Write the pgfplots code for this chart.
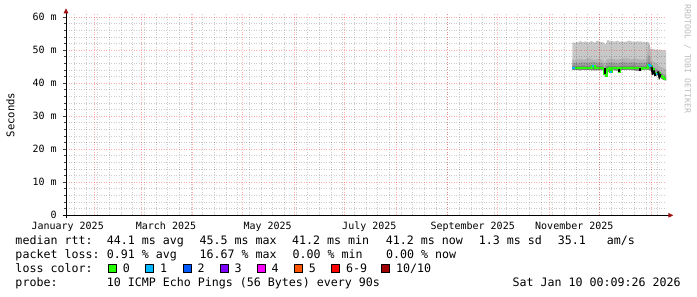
\documentclass[border=0pt]{standalone}
\usepackage{pgfplots}
\pgfplotsset{compat=1.18}
\usepgfplotslibrary{fillbetween}
\usetikzlibrary{arrows.meta}
\usepackage{fontspec}
\newfontfamily\mono{DejaVu Sans Mono}
\newcommand\legfont{\mono\fontsize{11.63bp}{14bp}\selectfont}
\newcommand\axfont{\mono\fontsize{10bp}{12bp}\selectfont}
\newcommand\labfont{\mono\fontsize{10.6bp}{12bp}\selectfont}
\newcommand\wmfont{\mono\fontsize{8.2bp}{10bp}\selectfont}
\definecolor{lc0}{HTML}{26FF00}
\definecolor{lc1}{HTML}{00B8FF}
\definecolor{lc2}{HTML}{0059FF}
\definecolor{lc3}{HTML}{7E00FF}
\definecolor{lc4}{HTML}{FF00FF}
\definecolor{lc5}{HTML}{FF5500}
\definecolor{lc6}{HTML}{FF0000}
\definecolor{lc10}{HTML}{A10000}
\definecolor{smokeA}{HTML}{C8C8C8}
\definecolor{smokeB}{HTML}{B4B4B4}
\definecolor{smokeC}{HTML}{9C9C9C}
\definecolor{smokeD}{HTML}{808080}
\definecolor{arrowred}{HTML}{A01010}
\definecolor{wmgray}{HTML}{BBBBBB}
\begin{document}
\begin{tikzpicture}
\begin{axis}[
  at={(66bp,81.7bp)}, anchor=south west,
  scale only axis, width=600bp, height=202bp,
  xmin=14, xmax=374, ymin=0, ymax=61.2,
  axis lines=left,
  axis on top,
  x axis line style={line width=1bp, black, -{Triangle[length=5bp,width=4.5bp,color=arrowred,fill=arrowred]}, shorten >=-7.3bp, shorten <=-3.3bp},
  y axis line style={line width=1bp, black, -{Triangle[length=5bp,width=4.5bp,color=arrowred,fill=arrowred]}, shorten >=-5bp, shorten <=-3bp},
  xtick={31,59,90,120,151,181,212,243,273,304,334,365},
  xticklabels={},
  minor xtick={19,26,...,374},
  extra x ticks={15,74,135,196,258,319},
  extra x tick labels={January 2025,March 2025,May 2025,July 2025,September 2025,November 2025},
  extra x tick style={grid=none},
  xtick style={draw=none},
  ytick={0,10,...,60},
  yticklabels={{0\hspace{9.7bp}},{10 m},{20 m},{30 m},{40 m},{50 m},{60 m}},
  minor y tick num=4,
  ytick style={black!75, line width=1bp},
  tick align=outside,
  major tick length=3bp, minor tick length=2bp,
  grid=both,
  major grid style={red, opacity=0.32, dash pattern=on 1bp off 1.5bp, line width=0.8bp},
  minor grid style={black, opacity=0.2, dash pattern=on 1bp off 1.5bp, line width=0.8bp},
  xticklabel style={font=\axfont, anchor=base, inner sep=0pt, yshift=-11.2bp},
  yticklabel style={font=\axfont, anchor=east, inner sep=0pt, xshift=-6.2bp},
  ylabel={Seconds},
  ylabel style={font=\labfont, at={(axis description cs:-0.0925,0.4965)}, anchor=center},
]
% smoke: maximum
\addplot[name path=maxc, draw=none] coordinates {
(317.8,52.3) (318.6,52.4) (319.6,52.2) (320.6,52.5) (321.6,52.4) (322.6,52.9)
(323.4,52.6) (324.4,52.4) (325.4,52.7) (326.4,52.6) (327.4,52.2) (328.4,52.6)
(329.4,52.8) (330.4,52.5) (331.4,52.3) (332.4,52.8) (333.4,52.9) (334.4,52.6)
(335.4,52.4) (336.4,52.5) (337.2,51.8) (338.0,52.0) (338.8,53.1) (339.8,53.0)
(340.8,52.7) (341.8,52.8) (342.8,52.6) (343.8,52.7) (344.8,52.9) (345.8,52.6)
(346.8,52.6) (347.8,52.8) (348.8,52.5) (349.8,52.6) (350.8,52.7) (351.8,52.9)
(352.8,52.8) (353.8,52.6) (354.8,52.7) (355.8,52.5) (356.8,52.8) (357.8,52.6)
(358.8,52.7) (359.8,52.5) (360.8,52.6) (361.8,52.4) (362.8,52.6) (363.8,52.3)
(364.6,50.5) (365.4,50.3) (366.4,50.4) (367.4,50.2) (368.4,50.3) (369.4,50.1)
(370.4,50.2) (371.4,50.0) (372.4,50.1) (373.4,49.9) (374.0,49.9)};
% smoke: minimum
\addplot[name path=minc, draw=none] coordinates {
(317.8,44.1) (322,44.0) (326,44.1) (330,44.0) (336.2,44.0) (336.8,42.3)
(338.6,43.9) (340.4,43.0) (341.6,44.0) (345.2,43.9) (345.8,43.1) (346.4,44.0)
(352,44.1) (358.4,43.8) (359.6,44.1) (362.6,44.2) (365.6,43.8) (366.8,42.8)
(368,42.4) (369.2,42.5) (370.4,41.8) (371.6,41.3) (372.8,41.0) (374,40.9)};
% inner bands
\addplot[name path=bB, draw=none] coordinates {
(317.8,47.3) (320,47.0) (322.4,47.5) (325,47.2) (328,47.6) (331,47.1) (334,47.4)
(336.2,47.0) (337,46.0) (338.6,47.3) (341,47.5) (344,47.2) (347,47.4) (350,47.6)
(353,47.3) (356,47.5) (359,47.2) (362.6,47.4) (363.2,52.0) (364.4,51.5) (365.0,47.0)
(366.8,46.5) (368,46.0) (369.2,45.6) (370.4,45.2) (371.6,44.8) (372.8,44.5) (374,44.3)};
\addplot[name path=bC, draw=none] coordinates {
(317.8,46.2) (321,46.0) (324,46.4) (327,46.1) (330,46.5) (333,46.2) (336.2,46.0)
(337,44.8) (338.6,46.2) (342,46.3) (345,46.0) (348,46.4) (351,46.2) (354,46.4)
(357,46.1) (360,46.3) (362.6,46.2) (363.2,48.5) (364.4,48.0) (365.0,45.8) (366.8,45.0)
(368,44.5) (369.2,44.0) (370.4,43.6) (371.6,43.2) (372.8,42.8) (374,42.6)};
\addplot[name path=bD, draw=none] coordinates {
(317.8,45.3) (321,45.2) (324,45.4) (327,45.2) (330,45.6) (333,45.3) (336.2,45.1)
(337,44.0) (338.6,45.2) (342,45.3) (345,45.1) (348,45.3) (351,45.2) (354,45.4)
(357,45.2) (360,45.3) (362.6,45.3) (363.2,46.5) (364.4,46.2) (365.0,45.0) (366.8,44.0)
(368,43.5) (369.2,43.3) (370.4,42.8) (371.6,42.4) (372.8,42.0) (374,41.8)};
\addplot[fill=smokeA, draw=none] fill between[of=maxc and minc];
\addplot[fill=smokeB, draw=none] fill between[of=bB and minc];
\addplot[fill=smokeC, draw=none] fill between[of=bC and minc];
\addplot[fill=smokeD, draw=none] fill between[of=bD and minc];
% median rtt (loss 0)
\addplot[const plot, color=lc0, line width=2bp] coordinates {
(317.8,44.6) (319.4,44.6) (322.4,44.5) (325.4,44.6) (328.4,44.5) (329.6,45.2)
(331.4,44.6) (334.4,44.5) (336.2,44.4) (336.8,42.8) (337.7,42.3) (338.6,44.3)
(339.8,44.5) (340.4,43.4) (341.6,44.5) (343.4,44.6) (345.2,44.3) (345.8,43.5)
(346.4,44.5) (349.4,44.6) (352.4,44.6) (355.4,44.5) (357.2,44.6) (358.4,44.2)
(359.6,44.6) (361.4,44.7) (362.6,44.6) (363.2,45.5) (364.4,45.2) (365.6,44.3)
(366.8,43.2) (368.0,42.8) (369.2,43.0) (370.4,42.3) (371.6,41.8) (372.8,41.4) (374.0,41.2)};
% median rtt with 1 lost ping
\addplot[const plot, color=lc1, line width=2bp] coordinates {(317.8,44.6) (319.6,44.6)};
\addplot[const plot, color=lc1, line width=2bp] coordinates {(329.6,45.2) (331.0,45.2)};
\addplot[const plot, color=lc1, line width=2bp] coordinates {(340.4,43.4) (341.4,43.4)};
\addplot[const plot, color=lc1, line width=2bp] coordinates {(363.2,45.5) (364.4,45.2) (365.4,45.2)};
\addplot[const plot, color=lc1, line width=2bp] coordinates {(368.0,42.8) (369.2,42.8)};
% dark steps
\addplot[black, line width=2bp] coordinates {(337.2,44.6) (337.2,42.9)};
\addplot[black, line width=2bp] coordinates {(345.6,44.4) (345.6,43.5)};
\addplot[black, line width=2bp] coordinates {(358.6,44.6) (358.6,43.8)};
\addplot[black, line width=2bp] coordinates {(365.3,45.0) (365.9,43.0) (366.8,43.5) (367.6,42.2)};
\addplot[black, line width=2bp] coordinates {(369.2,43.6) (370.0,41.9) (370.8,42.8)};
\end{axis}
% watermark
\node[rotate=-90, anchor=center, font=\wmfont, text=wmgray] at (687.5bp,238bp) {RRDTOOL / TOBI OETIKER};
% legend
\begin{scope}[every node/.style={anchor=base west, inner sep=0pt, font=\legfont}]
\node at (15.3bp,52bp) {median rtt:};
\node at (106.6bp,52bp) {44.1 ms avg};
\node at (199.3bp,52bp) {45.5 ms max};
\node at (292.0bp,52bp) {41.2 ms min};
\node at (385.6bp,52bp) {41.2 ms now};
\node at (478.6bp,52bp) {1.3 ms sd};
\node at (557.6bp,52bp) {35.1};
\node at (606.6bp,52bp) {am/s};
\node at (15.3bp,38.3bp) {packet loss:};
\node at (106.6bp,38.3bp) {0.91 \% avg};
\node at (199.3bp,38.3bp) {16.67 \% max};
\node at (292.3bp,38.3bp) {0.00 \% min};
\node at (385.8bp,38.3bp) {0.00 \% now};
\node at (15.3bp,24.5bp) {loss color:};
\node at (122.6bp,24.5bp) {0};
\node at (160.0bp,24.5bp) {1};
\node at (197.3bp,24.5bp) {2};
\node at (234.3bp,24.5bp) {3};
\node at (271.3bp,24.5bp) {4};
\node at (308.6bp,24.5bp) {5};
\node at (346.0bp,24.5bp) {6-9};
\node at (396.0bp,24.5bp) {10/10};
\node at (15.3bp,10.8bp) {probe:};
\node at (106.6bp,10.8bp) {10 ICMP Echo Pings (56 Bytes) every 90s};
\node[anchor=base east] at (680.8bp,10.8bp) {Sat Jan 10 00:09:26 2026};
\end{scope}
\begin{scope}[line width=0.8bp]
\draw[fill=lc0] (108.3bp,24.5bp) rectangle ++(8bp,8bp);
\draw[fill=lc1] (145.7bp,24.5bp) rectangle ++(8bp,8bp);
\draw[fill=lc2] (183.0bp,24.5bp) rectangle ++(8bp,8bp);
\draw[fill=lc3] (220.0bp,24.5bp) rectangle ++(8bp,8bp);
\draw[fill=lc4] (257.0bp,24.5bp) rectangle ++(8bp,8bp);
\draw[fill=lc5] (294.3bp,24.5bp) rectangle ++(8bp,8bp);
\draw[fill=lc6] (331.7bp,24.5bp) rectangle ++(8bp,8bp);
\draw[fill=lc10] (381.7bp,24.5bp) rectangle ++(8bp,8bp);
\end{scope}
\pgfresetboundingbox
\path[use as bounding box] (0,0) rectangle (697bp,297bp);
\end{tikzpicture}
\end{document}
